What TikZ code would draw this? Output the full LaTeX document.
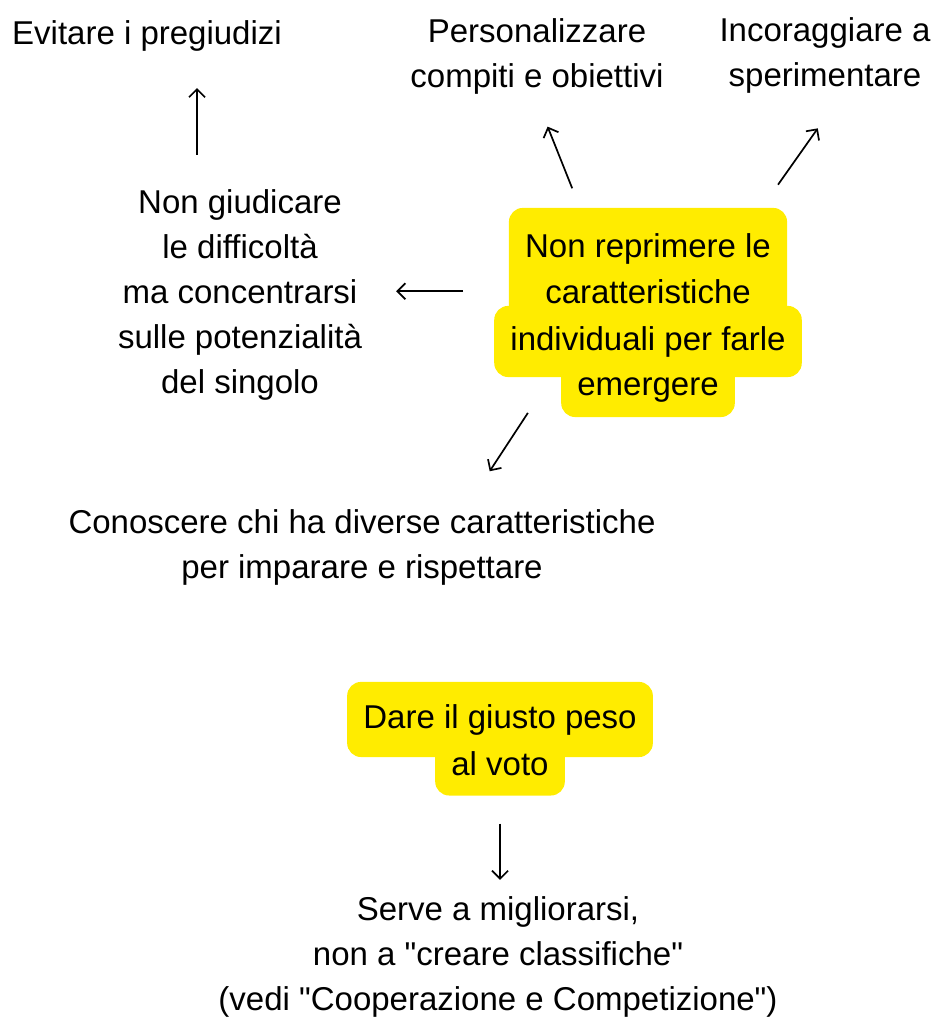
\documentclass[tikz,border=0pt]{standalone}
\usepackage{fontspec}
\setmainfont{Liberation Sans}
\usepackage{xcolor}
\usetikzlibrary{arrows.meta, positioning, fit, backgrounds}
\definecolor{hlyellow}{RGB}{255,236,0}
\newcommand{\hand}{\fontsize{33}{45}\selectfont}
\tikzset{
	txt/.style={font=\hand, align=center, inner sep=0pt, anchor=base},
	hlbox/.style={fill=hlyellow, rounded corners=14pt, inner xsep=16pt, inner ysep=20pt},
	conn/.style={draw, line width=1.7pt, -{Straight Barb[length=8pt, width=16pt]}}
}

\begin{document}
\begin{tikzpicture}[x=1pt, y=1pt]
    \useasboundingbox (0,0) rectangle (930,-1024);
    % Nodes (multi-line nodes sit on their last baseline)
    \node[txt] (evit) at (147,-45) {Evitare i pregiudizi};
    \node[txt] (pers) at (537,-88) {Personalizzare\\compiti e obiettivi};
    \node[txt] (incor) at (825,-87) {Incoraggiare a\\sperimentare};
    \node[txt] (giud) at (240,-393) {Non giudicare\\le difficoltà\\ma concentrarsi\\sulle potenzialità\\del singolo};
    \node[txt] (m1) at (648,-257) {Non reprimere le};
    \node[txt] (m2) at (648,-303) {caratteristiche};
    \node[txt] (m3) at (648,-350) {individuali per farle};
    \node[txt] (m4) at (648,-395) {emergere};
    \node[txt] (conosc) at (362,-578) {Conoscere chi ha diverse caratteristiche\\per imparare e rispettare};
    \node[txt] (d1) at (500,-728) {Dare il giusto peso};
    \node[txt] (d2) at (500,-775) {al voto};
    \node[txt] (serve) at (498,-1010) {Serve a migliorarsi,\\non a \textquotedbl creare classifiche\textquotedbl\\(vedi \textquotedbl Cooperazione e Competizione\textquotedbl)};
    % Highlights
    \begin{scope}[on background layer]
        \node[hlbox, inner ysep=25pt, fit=(m1)(m2)] (mainA) {};
        \node[hlbox, fit=(m3)] (mainB) {};
        \node[hlbox, inner ysep=15pt, fit=(m4)] (mainC) {};
        \node[hlbox, inner ysep=22pt, fit=(d1)] (dareA) {};
        \node[hlbox, fit=(d2)] (dareB) {};
    \end{scope}
    % Arrows
    \draw[conn, shorten <=34pt, shorten >=36pt] ([xshift=-43pt]giud.north) -- ([xshift=50pt]evit.south);
    \draw[conn, shorten <=82pt, shorten >=34pt] (m2.west) -- (m2.west -| giud.east);
    \draw[conn, shorten <=48pt, shorten >=34pt] ([xshift=-58pt]m1.north) -- ([xshift=-2pt]pers.south);
    \draw[conn, shorten <=59pt, shorten >=42pt] ([xshift=96pt]m1.north) -- ([xshift=17pt]incor.south);
    \draw[conn, shorten <=13pt, shorten >=45pt] ([xshift=-113pt]m4.south) -- ([xshift=103pt]conosc.north);
    \draw[conn, shorten <=48pt, shorten >=16pt] (d2.south) -- (d2.south |- serve.north);
\end{tikzpicture}
\end{document}
